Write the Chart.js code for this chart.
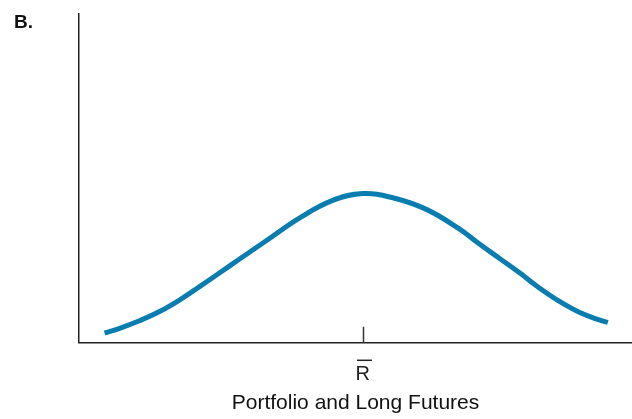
<!DOCTYPE html>
<html>
<head>
<meta charset="utf-8">
<script src="https://cdn.jsdelivr.net/npm/chart.js@4/dist/chart.umd.min.js"></script>
<style>
  html, body { margin: 0; padding: 0; background: #fff; }
  #wrap { width: 632px; height: 419px; position: relative; }
</style>
</head>
<body>
<div id="wrap"><canvas id="graph" width="632" height="419"></canvas></div>
<script>
// return relative to the mean (R-bar at 0), arbitrary units
const returns = [-9.10, -8.57, -7.87, -7.16, -6.46, -5.75, -5.04, -4.34, -3.39, -2.22, -1.06, 0,
                 1.06, 2.26, 3.39, 4.09, 4.80, 5.54, 6.24, 6.95, 7.65, 8.36, 8.64];
const density = [0.030, 0.044, 0.067, 0.095, 0.130, 0.171, 0.213, 0.255, 0.311, 0.380, 0.433, 0.454,
                 0.441, 0.405, 0.347, 0.302, 0.258, 0.212, 0.166, 0.125, 0.092, 0.069, 0.062];
const tickValues = [0];
const tickLabels = ['R'];   // bar drawn over it below
const panelLabel = 'B.';
const xTitle = 'Portfolio and Long Futures';

const points = returns.map((r, i) => ({ x: r, y: density[i] }));

// small upward tick at the mean, bar over R, panel label
const extras = {
  id: 'extras',
  afterDraw(chart) {
    const { ctx, chartArea, scales } = chart;
    ctx.save();
    ctx.strokeStyle = '#333';
    ctx.lineWidth = 1.5;
    tickValues.forEach(v => {
      const px = Math.round(scales.x.getPixelForValue(v)) + 0.5;
      ctx.beginPath();
      ctx.moveTo(px, chartArea.bottom);
      ctx.lineTo(px, chartArea.bottom - 16);
      ctx.stroke();
      // overline on the label
      ctx.strokeStyle = '#222';
      ctx.beginPath();
      ctx.moveTo(px - 6.5, chartArea.bottom + 17.5);
      ctx.lineTo(px + 8.5, chartArea.bottom + 17.5);
      ctx.stroke();
    });
    ctx.fillStyle = '#111';
    ctx.font = 'bold 19px "Liberation Sans", Arial, sans-serif';
    ctx.textBaseline = 'alphabetic';
    ctx.fillText(panelLabel, 14, 28);
    ctx.restore();
  }
};

const ctx = document.getElementById('graph').getContext('2d');
new Chart(ctx, {
  type: 'line',
  data: {
    datasets: [{
      data: points,
      borderColor: '#0a7db0',
      borderWidth: 5,
      pointRadius: 0,
      tension: 0.4,
      fill: false
    }]
  },
  options: {
    responsive: false,
    animation: false,
    layout: { padding: { left: 79, right: 0, top: 14, bottom: 3 } },
    plugins: { legend: { display: false }, tooltip: { enabled: false } },
    scales: {
      x: {
        type: 'linear',
        min: -10,
        max: 9.49,
        afterBuildTicks: axis => { axis.ticks = tickValues.map(v => ({ value: v })); },
        ticks: {
          autoSkip: false,
          maxRotation: 0,
          padding: 20,
          color: '#222',
          font: { family: '"Liberation Sans", Arial, sans-serif', size: 20 },
          callback: v => tickLabels[tickValues.indexOf(v)] ?? ''
        },
        grid: { display: false, drawTicks: false },
        border: { display: true, color: '#222', width: 1.5 },
        title: {
          display: true,
          text: xTitle,
          color: '#111',
          padding: { top: -16, bottom: 0 },
          font: { family: '"Liberation Sans", Arial, sans-serif', size: 21 }
        }
      },
      y: {
        min: 0,
        max: 1,
        ticks: { display: false },
        grid: { display: false, drawTicks: false },
        border: { display: true, color: '#222', width: 1.5 }
      }
    }
  },
  plugins: [extras]
});
</script>
</body>
</html>
